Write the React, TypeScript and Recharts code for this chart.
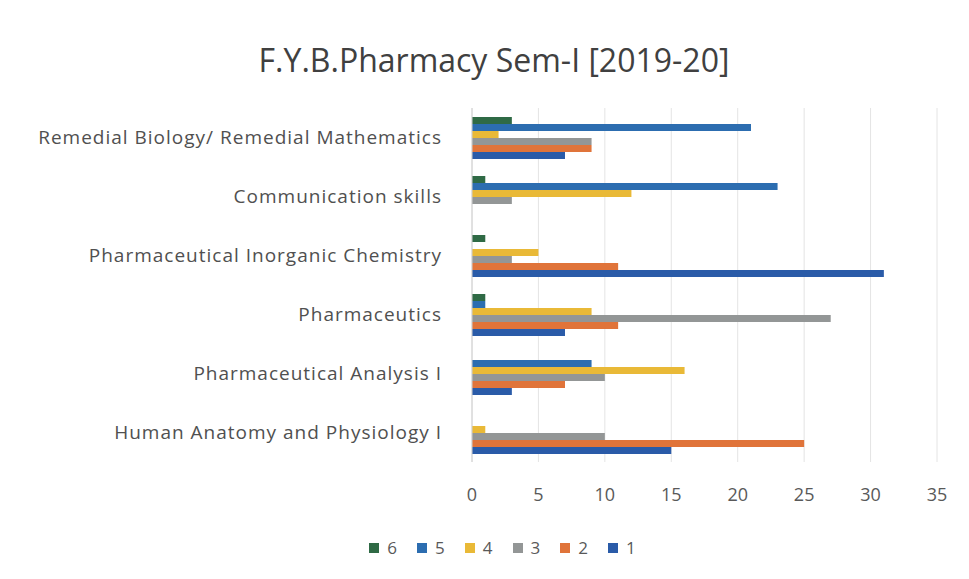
import { BarChart, Bar, XAxis, YAxis, CartesianGrid, Legend } from 'recharts'

const subjects = [
  'Remedial Biology/ Remedial Mathematics',
  'Communication skills',
  'Pharmaceutical Inorganic Chemistry',
  'Pharmaceutics',
  'Pharmaceutical Analysis I',
  'Human Anatomy and Physiology I',
]

const s6 = [3, 1, 1, 1, 0, 0]
const s5 = [21, 23, 0, 1, 9, 0]
const s4 = [2, 12, 5, 9, 16, 1]
const s3 = [9, 3, 3, 27, 10, 10]
const s2 = [9, 0, 11, 11, 7, 25]
const s1 = [7, 0, 31, 7, 3, 15]

const xTicks = [0, 5, 10, 15, 20, 25, 30, 35]

const series = [
  { key: 's6', name: '6', color: '#2f6a45' },
  { key: 's5', name: '5', color: '#2c6db0' },
  { key: 's4', name: '4', color: '#e9b937' },
  { key: 's3', name: '3', color: '#939696' },
  { key: 's2', name: '2', color: '#e0743a' },
  { key: 's1', name: '1', color: '#2a5ba8' },
]

const data = subjects.map((name, i) => ({
  name,
  s6: s6[i],
  s5: s5[i],
  s4: s4[i],
  s3: s3[i],
  s2: s2[i],
  s1: s1[i],
}))

const font = '"Open Sans", sans-serif'

const LegendBox = () => (
  <div
    style={{
      display: 'flex',
      justifyContent: 'center',
      gap: 20,
      paddingTop: 15,
      fontSize: 17,
      color: '#595959',
      fontFamily: font,
    }}
  >
    {series.map((s) => (
      <span key={s.key} style={{ display: 'inline-flex', alignItems: 'center', gap: 8 }}>
        <span style={{ width: 10, height: 10, background: s.color, display: 'inline-block' }} />
        {s.name}
      </span>
    ))}
  </div>
)

export default function App() {
  return (
    <div style={{ position: 'absolute', left: 0, top: 0, width: 969, height: 579, background: '#fff', fontFamily: font }}>
      <div
        style={{
          position: 'absolute',
          top: 38,
          left: 0,
          width: 988,
          textAlign: 'center',
          fontSize: 32,
          color: '#404040',
        }}
      >
        F.Y.B.Pharmacy Sem-I [2019-20]
      </div>
      <BarChart
        width={969}
        height={579}
        data={data}
        layout="vertical"
        margin={{ top: 108, right: 32, bottom: 0, left: 0 }}
        barCategoryGap={9}
        barGap={0}
      >
        <CartesianGrid horizontal={false} stroke="#e4e4e4" />
        <XAxis
          type="number"
          domain={[0, 35]}
          ticks={xTicks}
          axisLine={false}
          tickLine={false}
          tickMargin={20}
          height={67}
          tick={{ fill: '#595959', fontSize: 18, fontFamily: font }}
        />
        <YAxis
          type="category"
          dataKey="name"
          width={472}
          axisLine={{ stroke: '#d0d0d0' }}
          tickLine={false}
          tickSize={0}
          tickMargin={30}
          tick={{ fill: '#505050', fontSize: 19, letterSpacing: 1, fontFamily: font }}
        />
        <Legend
          verticalAlign="bottom"
          height={50}
          content={<LegendBox />}
          wrapperStyle={{ left: 34, bottom: 8 }}
        />
        {series.map((s) => (
          <Bar key={s.key} dataKey={s.key} name={s.name} fill={s.color} isAnimationActive={false} />
        ))}
      </BarChart>
    </div>
  )
}
